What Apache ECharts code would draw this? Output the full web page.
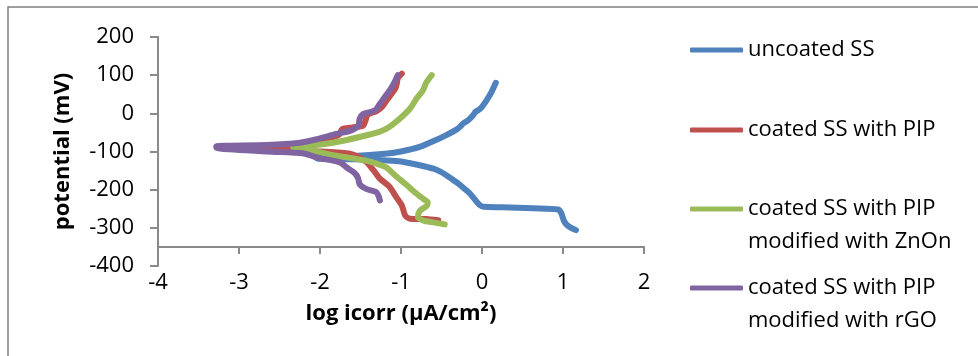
<!DOCTYPE html>
<html>
<head>
<meta charset="utf-8">
<script src="https://cdn.jsdelivr.net/npm/echarts@6/dist/echarts.min.js"></script>
<style>
  html, body { margin: 0; padding: 0; background: #ffffff; }
  #chart { width: 978px; height: 356px; }
</style>
</head>
<body>
<div id="chart"></div>
<script>
// Tafel polarisation curves: log current density vs. potential
const seriesNames = [
  'uncoated SS',
  'coated SS with PIP',
  'coated SS with PIP\nmodified with ZnOn',
  'coated SS with PIP\nmodified with rGO'
];
const seriesColors = ['#4F81BD', '#C0504D', '#9BBB59', '#8064A2'];

// uncoated SS (cathodic end -> Ecorr -> anodic end)
const uncoatedLogI = [1.16, 1.10, 1.05, 1.01, 0.98, 0.94, 0.63, 0.25, 0.02, -0.03, -0.08, -0.15, -0.22, -0.28, -0.36, -0.44, -0.52, -0.60, -0.77, -1.00, -1.20, -1.43, -1.76, -2.04,
  -2.03, -1.76, -1.43, -1.20, -1.00, -0.77, -0.56, -0.44, -0.31, -0.26, -0.23, -0.17, -0.11, -0.08, -0.04, 0.00, 0.06, 0.12, 0.17];
const uncoatedE = [-306, -300, -293, -281, -262, -252, -249, -246, -245, -240, -228, -210, -197, -186, -174, -162, -152, -145, -136, -126, -123, -121, -120, -118,
  -113, -113, -110, -106, -100, -88, -69, -57, -42, -33, -26, -18, -5, 4, 9, 17, 35, 57, 80];

// coated SS with PIP
const pipLogI = [-0.54, -0.69, -0.89, -0.95, -0.99, -1.06, -1.14, -1.26, -1.34, -1.43, -1.63, -2.00, -2.50, -3.10,
  -3.10, -2.60, -2.20, -2.00, -1.85, -1.76, -1.73, -1.60, -1.47, -1.44, -1.41, -1.30, -1.23, -1.17, -1.12, -1.07, -1.05, -1.04, -0.99];
const pipE = [-280, -277, -276, -267, -241, -219, -193, -171, -149, -127, -106, -100, -96, -91,
  -88, -85, -80, -71, -63, -55, -42, -37, -33, -20, -3, 6, 18, 36, 50, 65, 80, 92, 104];

// coated SS with PIP modified with ZnOn
const znoLogI = [-0.46, -0.62, -0.72, -0.79, -0.77, -0.68, -0.67, -0.72, -0.81, -0.93, -1.06, -1.18, -1.30, -1.43, -1.65, -1.84, -2.10, -2.33,
  -2.33, -2.10, -1.84, -1.51, -1.26, -1.14, -1.02, -0.89, -0.81, -0.73, -0.69, -0.65, -0.62];
const znoE = [-291, -285, -281, -272, -256, -242, -233, -225, -210, -188, -165, -142, -132, -124, -116, -110, -97, -90,
  -86, -84, -77, -62, -48, -35, -15, 12, 38, 60, 80, 92, 100];

// coated SS with PIP modified with rGO
const rgoLogI = [-1.26, -1.28, -1.31, -1.43, -1.51, -1.53, -1.57, -1.67, -1.76, -2.04, -2.20, -2.66, -3.28,
  -3.28, -2.66, -2.25, -2.04, -1.80, -1.63, -1.53, -1.51, -1.47, -1.32, -1.26, -1.20, -1.14, -1.08, -1.04];
const rgoE = [-228, -215, -206, -198, -186, -170, -157, -142, -128, -116, -105, -100, -90,
  -86, -83, -77, -68, -54, -46, -33, -14, -2, 8, 25, 43, 60, 82, 100];

// axis settings
const xMin = -4, xMax = 2, xStep = 1;
const yMin = -400, yMax = 200, yStep = 100;
const xAxisCrossesAt = -350;

const xTitle = 'log icorr (μA/cm²)';
const yTitle = 'potential (mV)';

const logIData = [uncoatedLogI, pipLogI, znoLogI, rgoLogI];
const eData = [uncoatedE, pipE, znoE, rgoE];

const FONT = '"Open Sans", "Noto Sans", sans-serif';
const AXIS_GREY = '#8a8a8a';
const LEGEND_LINE_H = 33;

const gridTop = 37, gridLeft = 158, gridW = 486, gridH = 229;
const crossOffset = -gridH * (xAxisCrossesAt - yMin) / (yMax - yMin);

const chart = echarts.init(document.getElementById('chart'), null, { renderer: 'canvas' });

const series = seriesNames.map((name, i) => ({
  name: name,
  type: 'line',
  xAxisIndex: 0,
  yAxisIndex: 0,
  data: logIData[i].map((v, k) => [v, eData[i][k]]),
  smooth: 0.25,
  symbol: 'none',
  showSymbol: false,
  lineStyle: { color: seriesColors[i], width: 6, cap: 'round', join: 'round' },
  itemStyle: { color: seriesColors[i] },
  emphasis: { disabled: true },
  animation: false
}));

// one legend block per entry; the swatch lines up with the first text line
const legendIconCentres = [48, 128, 209, 288];
const legends = seriesNames.map((name, i) => {
  const multi = name.indexOf('\n') >= 0;
  const halfBox = multi ? LEGEND_LINE_H * 2.5 : LEGEND_LINE_H / 2 - 2;
  return {
    data: [{ name: name, icon: 'roundRect' }],
    left: 690,
    top: legendIconCentres[i] - halfBox,
    orient: 'vertical',
    padding: 0,
    itemWidth: 53,
    itemHeight: 5,
    selectedMode: false,
    formatter: multi ? (n => '\n\n' + n + '\n') : null,
    textStyle: {
      fontFamily: FONT,
      fontSize: 22,
      color: '#000',
      lineHeight: LEGEND_LINE_H
    }
  };
});

chart.setOption({
  animation: false,
  backgroundColor: '#ffffff',
  graphic: [{
    type: 'rect',
    shape: { x: 8, y: 7, width: 1000, height: 400 },
    style: { fill: null, stroke: '#7f7f7f', lineWidth: 1.5 },
    silent: true
  }],
  grid: { left: gridLeft, top: gridTop, width: gridW, height: gridH, containLabel: false },
  xAxis: [{
    type: 'value',
    min: xMin, max: xMax, interval: xStep,
    position: 'bottom',
    offset: crossOffset,
    axisLine: { show: true, onZero: false, lineStyle: { color: AXIS_GREY, width: 2 } },
    axisTick: { show: true, inside: false, length: 7, lineStyle: { color: AXIS_GREY, width: 2 } },
    axisLabel: { show: false },
    splitLine: { show: false }
  }, {
    type: 'value',
    min: xMin, max: xMax, interval: xStep,
    position: 'bottom',
    axisLine: { show: false, onZero: false },
    axisTick: { show: false },
    splitLine: { show: false },
    axisLabel: { show: true, margin: 6, fontFamily: FONT, fontSize: 22, color: '#000' },
    name: xTitle,
    nameLocation: 'middle',
    nameGap: 37,
    nameTextStyle: { fontFamily: FONT, fontSize: 22, fontWeight: 'bold', color: '#000' }
  }],
  yAxis: [{
    type: 'value',
    min: yMin, max: yMax, interval: yStep,
    axisLine: { show: true, onZero: false, lineStyle: { color: AXIS_GREY, width: 2 } },
    axisTick: { show: true, inside: false, length: 8, lineStyle: { color: AXIS_GREY, width: 2 } },
    splitLine: { show: false },
    axisLabel: { margin: 24, fontFamily: FONT, fontSize: 22, color: '#000' },
    name: yTitle,
    nameLocation: 'middle',
    nameGap: 84,
    nameRotate: 90,
    nameTextStyle: { fontFamily: FONT, fontSize: 22, fontWeight: 'bold', color: '#000' }
  }],
  legend: legends,
  series: series
});
</script>
</body>
</html>
